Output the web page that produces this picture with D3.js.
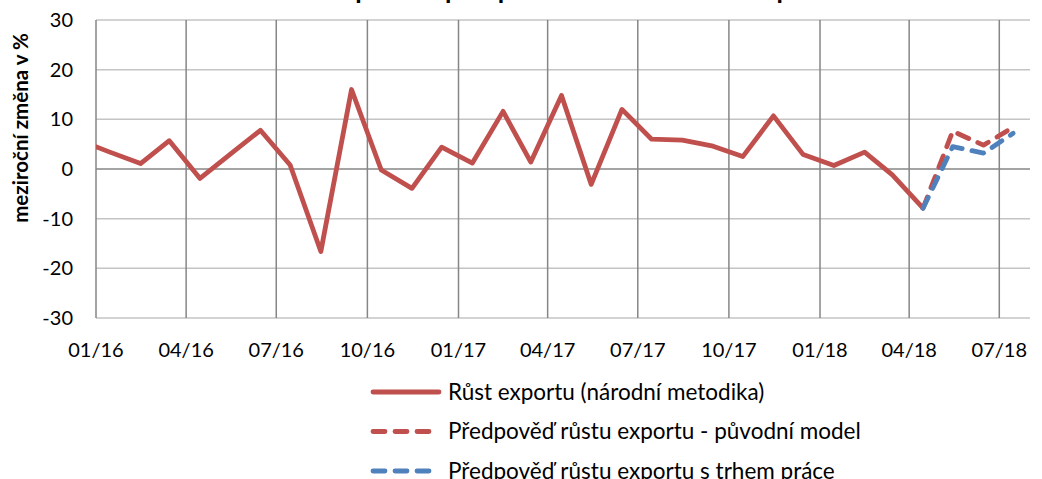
<!DOCTYPE html>
<html>
<head>
<meta charset="utf-8">
<script src="https://cdn.jsdelivr.net/npm/d3@7"></script>
<style>
  body { margin: 0; background: #fff; }
  svg { display: block; font-family: Lato, "Noto Sans", sans-serif; }
</style>
</head>
<body>
<svg id="chart" width="1042" height="479"></svg>
<script>
// months (value dated at mid-month); Dec 2015 lies left of the axis and is clipped
var months = ["2015-12", "2016-01", "2016-02", "2016-03", "2016-04", "2016-05", "2016-06",
  "2016-07", "2016-08", "2016-09", "2016-10", "2016-11", "2016-12",
  "2017-01", "2017-02", "2017-03", "2017-04", "2017-05", "2017-06",
  "2017-07", "2017-08", "2017-09", "2017-10", "2017-11", "2017-12",
  "2018-01", "2018-02", "2018-03", "2018-04"];
var exportGrowth = [5.8, 3.4, 1.1, 5.7, -1.9, 2.9, 7.8,
  0.8, -16.6, 16.0, -0.2, -3.9, 4.4,
  1.2, 11.6, 1.4, 14.8, -3.1, 12.0,
  6.0, 5.8, 4.6, 2.5, 10.7, 2.9,
  0.7, 3.4, -1.2, -7.9];

var forecastMonths = ["2018-04", "2018-05", "2018-06", "2018-07"];
var forecastOriginal = [-7.9, 7.6, 4.8, 8.4];
var forecastLabour = [-7.9, 4.5, 3.2, 7.2];

var yTicks = [-30, -20, -10, 0, 10, 20, 30];
var xTickMonths = ["2016-01", "2016-04", "2016-07", "2016-10", "2017-01", "2017-04",
  "2017-07", "2017-10", "2018-01", "2018-04", "2018-07"];

var seriesNames = ["Růst exportu (národní metodika)",
  "Předpověď růstu exportu - původní model",
  "Předpověď růstu exportu s trhem práce"];
var titleText = "Růst exportu a předpovědi meziročního tempa";
var yTitle = "meziroční změna v %";

var red = "#c0504d", blue = "#4f81bd";

var parseMonth = d3.timeParse("%Y-%m");
function midMonth(s) { return d3.timeDay.offset(parseMonth(s), 14); }

var svg = d3.select("#chart");

var x = d3.scaleTime()
  .domain([new Date(2016, 0, 1), new Date(2018, 7, 1)])
  .range([96, 1030]);
var y = d3.scaleLinear().domain([-30, 30]).range([318, 20]);

// horizontal gridlines
svg.append("g").selectAll("line").data(yTicks).join("line")
  .attr("x1", x.range()[0]).attr("x2", x.range()[1])
  .attr("y1", function (d) { return y(d); }).attr("y2", function (d) { return y(d); })
  .attr("stroke", function (d) { return d === 0 ? "#868686" : "#c4c4c4"; })
  .attr("stroke-width", 1.5);

// vertical gridlines
var xTicks = xTickMonths.map(parseMonth);
svg.append("g").selectAll("line").data(xTicks).join("line")
  .attr("x1", function (d) { return x(d); }).attr("x2", function (d) { return x(d); })
  .attr("y1", y(30)).attr("y2", y(-30))
  .attr("stroke", "#868686").attr("stroke-width", 1.5);

// y axis labels
svg.append("g").selectAll("text").data(yTicks).join("text")
  .attr("x", 73).attr("y", function (d) { return y(d); })
  .attr("dy", "0.35em").attr("text-anchor", "end")
  .attr("font-size", 20).attr("fill", "#000")
  .text(function (d) { return d; });

// x axis labels
var fmt = d3.timeFormat("%m/%y");
svg.append("g").selectAll("text").data(xTicks).join("text")
  .attr("x", function (d) { return x(d); }).attr("y", 357)
  .attr("text-anchor", "middle")
  .attr("font-size", 20).attr("fill", "#000")
  .text(function (d) { return fmt(d); });

// y axis title
svg.append("text")
  .attr("transform", "translate(28,128) rotate(-90)")
  .attr("text-anchor", "middle")
  .attr("font-size", 20.5).attr("font-weight", "bold")
  .text(yTitle);

// title, mostly above the visible area
svg.append("text")
  .attr("x", 537).attr("y", -1)
  .attr("text-anchor", "middle")
  .attr("font-size", 22).attr("font-weight", "bold")
  .attr("textLength", 535).attr("lengthAdjust", "spacingAndGlyphs")
  .text(titleText);

svg.append("clipPath").attr("id", "plotClip")
  .append("rect").attr("x", 96).attr("y", 0).attr("width", 1030 - 96).attr("height", 479);

var line = d3.line()
  .x(function (d) { return x(d[0]); })
  .y(function (d) { return y(d[1]); });

var plot = svg.append("g").attr("clip-path", "url(#plotClip)");

plot.append("path")
  .datum(months.map(function (m, i) { return [midMonth(m), exportGrowth[i]]; }))
  .attr("d", line).attr("fill", "none")
  .attr("stroke", red).attr("stroke-width", 4.8).attr("stroke-linejoin", "round");

plot.append("path")
  .datum(forecastMonths.map(function (m, i) { return [midMonth(m), forecastOriginal[i]]; }))
  .attr("d", line).attr("fill", "none")
  .attr("stroke", red).attr("stroke-width", 4.8)
  .attr("stroke-dasharray", "12,10").attr("stroke-linecap", "round").attr("stroke-linejoin", "round");

plot.append("path")
  .datum(forecastMonths.map(function (m, i) { return [midMonth(m), forecastLabour[i]]; }))
  .attr("d", line).attr("fill", "none")
  .attr("stroke", blue).attr("stroke-width", 4.8)
  .attr("stroke-dasharray", "12,10").attr("stroke-linecap", "round").attr("stroke-linejoin", "round");

// legend
var legendColors = [red, red, blue];
var legendDash = [null, "12,10", "12,10"];
var legend = svg.append("g").selectAll("g").data(seriesNames).join("g")
  .attr("transform", function (d, i) { return "translate(0," + (392 + i * 39.5) + ")"; });
legend.append("line")
  .attr("x1", 373).attr("x2", 439).attr("y1", 0).attr("y2", 0)
  .attr("stroke", function (d, i) { return legendColors[i]; })
  .attr("stroke-width", 4.8).attr("stroke-linecap", "round")
  .attr("stroke-dasharray", function (d, i) { return legendDash[i]; });
legend.append("text")
  .attr("x", 448).attr("y", 0).attr("dy", "0.35em")
  .attr("font-size", 22.5).attr("fill", "#000")
  .text(function (d) { return d; });
</script>
</body>
</html>
